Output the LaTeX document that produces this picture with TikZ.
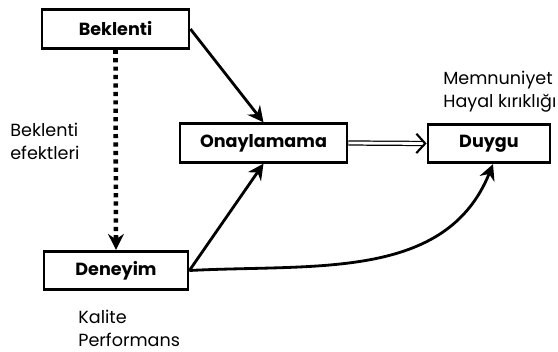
\documentclass[tikz,border=0pt]{standalone}
\usepackage{fontspec}
\setmainfont{Poppins}
\usetikzlibrary{arrows.meta}

\begin{document}
\begin{tikzpicture}[
    box/.style={draw, line width=1.6pt, font=\bfseries\fontsize{10}{12}\selectfont,
      minimum height=0.77cm, inner sep=0pt},
    lbl/.style={align=left, font=\fontsize{10}{13}\selectfont, inner sep=0pt},
    arr/.style={line width=1.6pt, -{Stealth[length=9pt,width=9pt,inset=3pt]}}
  ]
    \useasboundingbox (0,0) rectangle (11.16,7.04);
    \node[box, minimum width=2.94cm] (bek) at (2.31,6.46) {Beklenti};
    \node[box, minimum width=3.34cm] (ona) at (5.27,4.18) {Onaylamama};
    \node[box, minimum width=2.44cm] (duy) at (9.78,4.17) {Duygu};
    \node[box, minimum width=2.88cm] (den) at (2.32,1.63) {Deneyim};
    \node[lbl, anchor=west] (efk) at (0.2,4.22) {Beklenti\\efektleri};
    \node[lbl, anchor=west] (mem) at (8.86,5.2) {Memnuniyet\\Hayal kırıklığı};
    \node[lbl, anchor=west] (kal) at (1.56,0.47) {Kalite\\Performans};
    \draw[arr] (bek.east) -- (ona.north);
    \draw[arr, dash pattern=on 2.4pt off 2.4pt, line width=2.6pt] (bek.south) -- (den.north);
    \draw[arr] (den.east) -- (ona.south);
    \draw[arr] (den.east) to[out=3, in=-112] ([xshift=0.08cm]duy.south);
    \draw[double, double distance=1.6pt, line width=0.7pt,
      -{Straight Barb[length=5pt,width=11pt,line width=1.2pt]}] (ona.east) -- (duy.west);
  \end{tikzpicture}
\end{document}
